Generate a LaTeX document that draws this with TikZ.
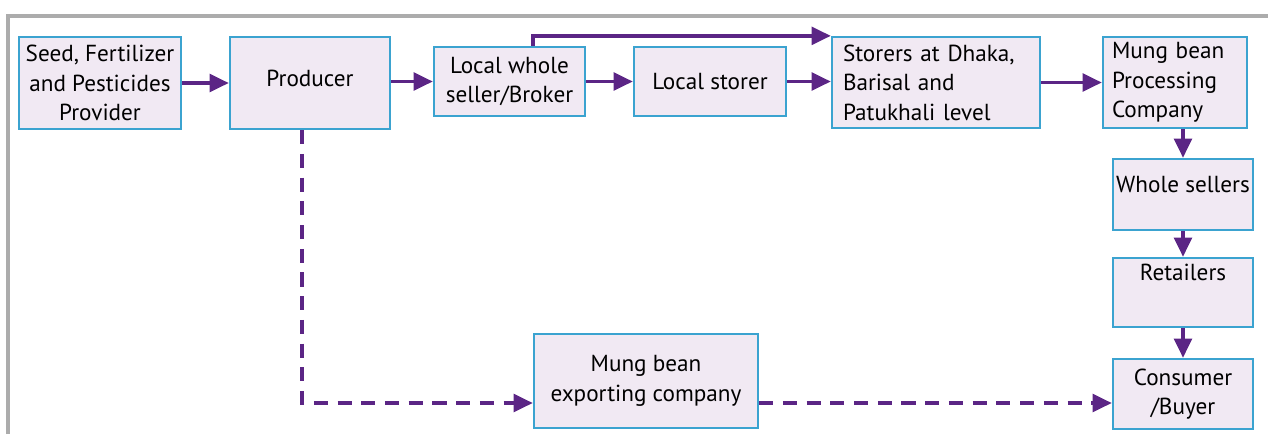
\documentclass[tikz,border=0pt]{standalone}
\usepackage{fontspec}
\setmainfont{PT Sans}
\usetikzlibrary{positioning}
\usetikzlibrary{arrows.meta}
\definecolor{boxfill}{HTML}{F1E9F3}
\definecolor{boxline}{HTML}{3BA3D0}
\definecolor{flow}{HTML}{5B2585}
\tikzset{
    chainbox/.style = {rectangle, line width=1.3pt, draw=boxline, fill=boxfill, align=center, inner sep=0pt,
                       font=\fontsize{13.2}{16.8}\selectfont},
    leftbox/.style = {chainbox, align=left},
    edgep/.style = {-{Triangle[length=11pt,width=10pt]}, line width=2.2pt, flow},
    edgepd/.style = {edgep, dash pattern=on 8pt off 5.5pt}, % export route
}

\begin{document}
\begin{tikzpicture}[scale=1.00,transform shape]
\useasboundingbox (0,0) rectangle (25.36,-8.68);
\draw[line width=2.6pt, gray!65] (0.16,-8.68) -- (0.16,-0.32) -- (25.36,-0.32);
%
\node[chainbox, minimum width=3.24cm, minimum height=1.84cm] at (2.00,-1.66) (seed) {Seed, Fertilizer\\and Pesticides\\Provider};
\node[chainbox, minimum width=3.20cm, minimum height=1.84cm, text depth=0.2cm] at (6.20,-1.66) (prod) {Producer};
\node[chainbox, minimum width=3.02cm, minimum height=1.38cm] at (10.19,-1.63) (lws) {Local whole\\seller/Broker};
\node[chainbox, minimum width=3.04cm, minimum height=1.38cm] at (14.20,-1.63) (lst) {Local storer};
\node[leftbox, minimum width=4.16cm, minimum height=1.82cm, text width=3.72cm] at (18.72,-1.65) (sto) {Storers at Dhaka,\\Barisal and\\Patukhali level};
\node[leftbox, minimum width=2.88cm, minimum height=1.82cm, text width=2.52cm] at (23.50,-1.65) (proc) {Mung bean\\Processing\\Company};
\node[chainbox, minimum width=2.80cm, minimum height=1.42cm, text depth=0.4cm] at (23.66,-3.89) (wsl) {Whole sellers};
\node[chainbox, minimum width=2.80cm, minimum height=1.38cm, text depth=0.8cm] at (23.66,-5.85) (ret) {Retailers};
\node[chainbox, minimum width=2.80cm, minimum height=1.40cm] at (23.66,-7.88) (con) {Consumer\\/Buyer};
\node[chainbox, minimum width=4.48cm, minimum height=1.88cm] at (12.92,-7.62) (exp) {Mung bean\\exporting company};
%
\draw[edgep] (seed) -- (prod);
\draw[edgep] (prod.east |- lws.west) -- (lws.west);
\draw[edgep] (lws) -- (lst);
\draw[edgep] (lst.east) -- (lst.east -| sto.west);
\draw[edgep] ([xshift=0.47cm]lws.north) |- (sto.north west);
\draw[edgep] (sto) -- (proc);
\draw[edgep] (wsl.north |- proc.south) -- (wsl.north);
\draw[edgep] (wsl) -- (ret);
\draw[edgep] (ret) -- (con);
\draw[edgepd] ([xshift=-0.16cm]prod.south) |- ([yshift=-0.44cm]exp.west);
\draw[edgepd] ([yshift=-0.44cm]exp.east) -- ([yshift=-0.44cm]exp.east -| con.west);
\end{tikzpicture}
\end{document}
